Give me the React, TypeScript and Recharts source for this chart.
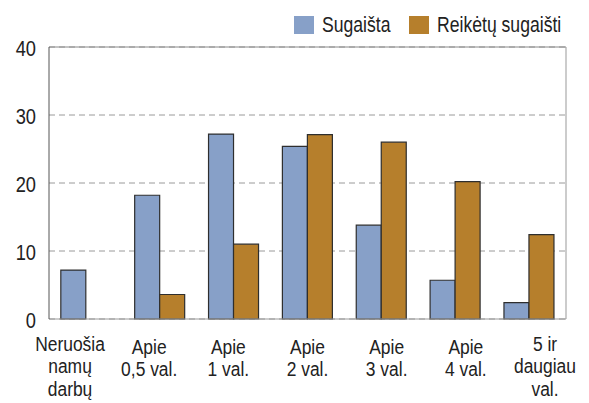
import React from "react"
import { Bar, BarChart, CartesianGrid, ReferenceLine, XAxis, YAxis } from "recharts"

const categories = ["Neruošia\nnamų\ndarbų", "Apie\n0,5 val.", "Apie\n1 val.", "Apie\n2 val.", "Apie\n3 val.", "Apie\n4 val.", "5 ir\ndaugiau\nval."]
const spent = [7.2, 18.2, 27.2, 25.4, 13.8, 5.7, 2.4]
const shouldSpend = [0, 3.6, 11, 27.1, 26, 20.2, 12.4]
const yTicks = [0, 10, 20, 30, 40]
const boundaryTicks = [0, 1, 2, 3, 4, 5, 6, 7]
const seriesNames = ["Sugaišta", "Reikėtų sugaišti"]

const BLUE = "#87a0c8"
const ORANGE = "#b67f2c"
const FONT = "'Liberation Sans', Arial, sans-serif"
const SQUEEZE = 0.83

const data = categories.map((label, i) => ({ label, pos: i + 0.5, spent: spent[i], shouldSpend: shouldSpend[i] }))

function CategoryTick({ x, y, payload, index }: any) {
  const lines = String(payload.value).split("\n")
  const startY = lines.length === 3 ? y + 24 : y + 27
  // labels in the original are spread a little wider than the bar groups
  const lx = x + (index - 3) * 5.3
  return (
    <g transform={`translate(${lx},${startY}) scale(${SQUEEZE},1)`}>
      <text x={0} y={0} textAnchor="middle" fontFamily={FONT} fontSize={21} fill="#222">
        {lines.map((l, i) => (
          <tspan key={i} x={0} dy={i === 0 ? 0 : 22.5}>{l}</tspan>
        ))}
      </text>
    </g>
  )
}

function ValueTick({ y, payload }: any) {
  return (
    <g transform={`translate(36,${y + 9}) scale(${SQUEEZE},1)`}>
      <text x={0} y={0} textAnchor="end" fontFamily={FONT} fontSize={22} fill="#222">
        {payload.value}
      </text>
    </g>
  )
}

// small marks between the categories, drawn from the edge axis tick position
function EdgeTick({ x, y }: any) {
  return <line x1={x} x2={x} y1={y - 6} y2={y - 2} stroke="#b0b0b0" />
}

function LegendBox() {
  const colors = [BLUE, ORANGE]
  const lefts = [294, 409]
  return (
    <>
      {seriesNames.map((name, i) => (
        <div key={name} style={{ position: "absolute", left: lefts[i], top: 14, height: 22, display: "flex", alignItems: "center" }}>
          <span style={{ width: 20, height: 18, background: colors[i], display: "inline-block" }} />
          <span
            style={{
              marginLeft: 8,
              fontFamily: FONT,
              fontSize: 22,
              color: "#222",
              display: "inline-block",
              whiteSpace: "nowrap",
              transform: "scaleX(0.8)",
              transformOrigin: "left center",
            }}
          >
            {name}
          </span>
        </div>
      ))}
    </>
  )
}

export default function App() {
  return (
    <div style={{ position: "absolute", left: 0, top: 0, width: 589, height: 403, background: "#fff" }}>
      <BarChart
        width={589}
        height={403}
        data={data}
        margin={{ top: 47, right: 23, bottom: 0, left: 0 }}
        barCategoryGap="16%"
        barGap={0}
      >
        <CartesianGrid vertical={false} stroke="#9a9a9a" strokeDasharray="6 4" />
        <XAxis
          xAxisId="edges"
          type="number"
          dataKey="pos"
          domain={[0, 7]}
          ticks={boundaryTicks}
          height={0}
          axisLine={false}
          tick={<EdgeTick />}
          tickSize={4}
          tickMargin={2}
          tickLine={false}
        />
        <XAxis
          dataKey="label"
          interval={0}
          height={84}
          axisLine={{ stroke: "#999" }}
          tickLine={false}
          tick={<CategoryTick />}
        />
        <YAxis
          domain={[0, 40]}
          ticks={yTicks}
          width={49}
          axisLine={{ stroke: "#555" }}
          tickLine={false}
          tick={<ValueTick />}
        />
        <ReferenceLine y={40} stroke="#888" />
        <ReferenceLine xAxisId="edges" x={7} stroke="#999" />
        <Bar dataKey="spent" name={seriesNames[0]} fill={BLUE} stroke="#2e2e2e" strokeWidth={1.2} isAnimationActive={false} />
        <Bar dataKey="shouldSpend" name={seriesNames[1]} fill={ORANGE} stroke="#2e2e2e" strokeWidth={1.2} isAnimationActive={false} />
      </BarChart>
      <LegendBox />
    </div>
  )
}
